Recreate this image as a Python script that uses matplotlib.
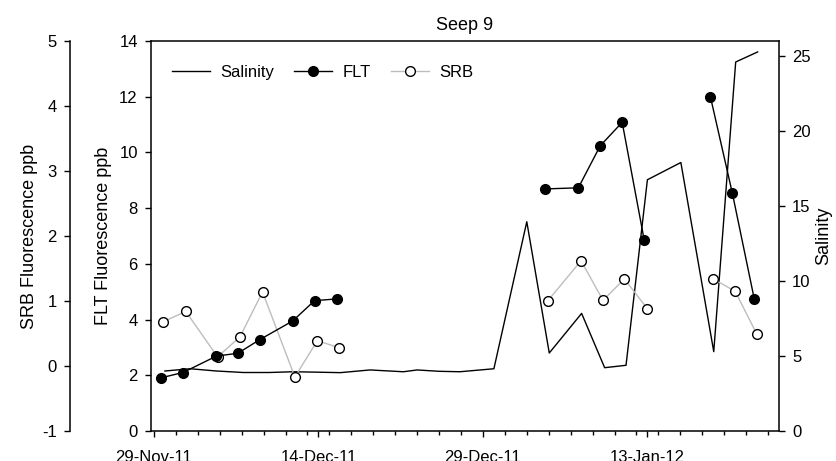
import numpy as np
import matplotlib.pyplot as plt

plt.rcParams['font.family'] = ['Liberation Sans', 'DejaVu Sans']
plt.rcParams['axes.unicode_minus'] = False

# days after 29-Nov-11 (nan rows break the lines)
flt_day = [0.65, 2.65, 5.7, 7.65, 9.65, 12.65, 14.65, 16.65, 26.0,
           35.7, 38.7, 40.7, 42.7, 44.7, 47.7, 50.75, 52.75, 54.75]
flt = [1.91, 2.10, 2.69, 2.79, 3.28, 3.95, 4.68, 4.74, np.nan,
       8.69, 8.73, 10.24, 11.08, 6.87, np.nan, 11.99, 8.53, 4.73]

srb_day = [0.85, 2.9, 5.8, 7.85, 9.9, 12.85, 14.9, 16.9, 26.0,
           35.9, 38.95, 40.95, 42.9, 45.0, 48.0, 51.0, 53.0, 54.95]
srb = [0.68, 0.84, 0.14, 0.45, 1.14, -0.17, 0.39, 0.28, np.nan,
       1.00, 1.62, 1.01, 1.34, 0.88, np.nan, 1.34, 1.15, 0.50]

sal_day = [1.0, 3.3, 5.7, 8.15, 10.5, 12.7, 15.0, 17.0, 19.7, 22.75, 24.0,
           26.0, 27.9, 31.0, 34.0, 36.05, 39.0, 41.1, 43.05, 45.0, 48.05,
           51.05, 53.05, 55.05]
sal = [4.0, 4.15, 4.0, 3.9, 3.9, 3.95, 3.92, 3.89, 4.07, 3.95, 4.07,
       3.98, 3.95, 4.15, 13.95, 5.2, 7.84, 4.22, 4.38, 16.75, 17.9,
       5.29, 24.6, 25.27]

date_ticks = [0, 15, 30, 45]
date_labels = ['29-Nov-11', '14-Dec-11', '29-Dec-11', '13-Jan-12']

fig = plt.figure(figsize=(8.36, 4.61), dpi=100)
ax = fig.add_axes([151/836, 30/461, 628/836, 390/461])
ax_sal = ax.twinx()
ax_srb = ax.twinx()

ax.set_zorder(3)
ax.patch.set_visible(False)
ax_srb.set_zorder(2)
ax_sal.set_zorder(1)

l_sal, = ax_sal.plot(sal_day, sal, color='black', lw=1, label='Salinity')
l_srb, = ax_srb.plot(srb_day, srb, color='#bdbdbd', lw=1, marker='o', ms=7,
                     mfc='white', mec='black', mew=1, label='SRB')
l_flt, = ax.plot(flt_day, flt, color='black', lw=1, marker='o', ms=7,
                 mfc='black', mec='black', label='FLT')

ax.set_xlim(-0.27, 57.0)
ax.set_ylim(0, 14)
ax.set_yticks(range(0, 15, 2))
ax_sal.set_ylim(0, 26)
ax_sal.set_yticks(range(0, 26, 5))
ax_srb.set_ylim(-1, 5)
ax_srb.set_yticks(range(-1, 6))

ax.set_xticks(date_ticks)
ax.set_xticklabels(date_labels)
ax.set_xticks(np.arange(0, 57, 2), minor=True)

# spines
ax.spines['right'].set_visible(False)
for s in ['left', 'top', 'bottom']:
    ax_sal.spines[s].set_visible(False)
for s in ['right', 'top', 'bottom']:
    ax_srb.spines[s].set_visible(False)
ax_srb.spines['left'].set_visible(True)
ax_srb.spines['left'].set_position(('axes', -81/628))
ax_srb.yaxis.set_ticks_position('left')
ax_srb.yaxis.set_label_position('left')

for a in (ax, ax_sal, ax_srb):
    for sp in a.spines.values():
        sp.set_linewidth(1.1)
    a.tick_params(axis='y', direction='out', length=4.5, width=1, labelsize=12, pad=5)
ax.tick_params(axis='x', which='major', direction='out', length=4, width=1,
               labelsize=12, pad=10)
ax.tick_params(axis='x', which='minor', direction='out', length=3, width=1)

ax.set_ylabel('FLT Fluorescence ppb', fontsize=13, labelpad=5)
ax_srb.set_ylabel('SRB Fluorescence ppb', fontsize=13, labelpad=3)
ax_sal.set_ylabel('Salinity', fontsize=13, labelpad=3)
ax.set_title('Seep 9', fontsize=13, pad=8)

ax.legend(handles=[l_sal, l_flt, l_srb], loc='center left',
          bbox_to_anchor=(0.02, 0.919), ncol=3, frameon=False, fontsize=12,
          borderpad=0, handlelength=2.3, handletextpad=0.6, columnspacing=1.2)

fig.savefig('out.png', dpi=100)
